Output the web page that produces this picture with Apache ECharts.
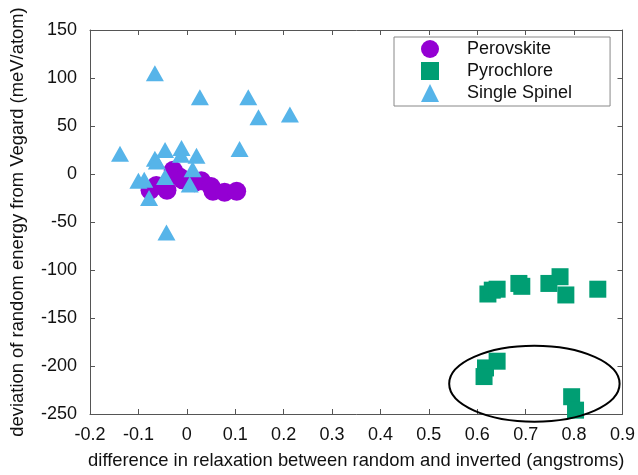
<!DOCTYPE html>
<html>
<head>
<meta charset="utf-8">
<script src="https://cdn.jsdelivr.net/npm/echarts@6/dist/echarts.min.js"></script>
<style>
  html, body { margin: 0; padding: 0; background: #fff; }
  #chart { width: 638px; height: 475px; }
</style>
</head>
<body>
<div id="chart"></div>
<script>
// values
const perovskite = [
  [-0.076, -17], [-0.063, -12], [-0.041, -17], [-0.028, 4], [-0.015, -3],
  [-0.009, -6], [0.016, -9], [0.030, -7], [0.050, -13], [0.054, -18],
  [0.078, -19], [0.103, -18]
];
const pyrochlore = [
  [0.622, -125], [0.631, -121], [0.641, -120], [0.686, -114], [0.692, -117],
  [0.748, -114], [0.771, -107], [0.783, -126], [0.849, -120],
  [0.641, -195], [0.617, -202], [0.614, -211], [0.795, -232], [0.803, -246]
];
const spinel = [
  [-0.066, 105], [0.027, 80], [0.127, 80], [0.148, 59], [0.213, 62],
  [-0.138, 21], [0.109, 26], [-0.066, 16], [-0.062, 13], [-0.045, 25],
  [-0.011, 27], [-0.012, 20], [0.020, 19], [0.012, 5], [-0.045, -3],
  [-0.100, -7], [-0.088, -6], [0.006, -11], [-0.078, -25], [-0.042, -61]
];
const xTicks = { min: -0.2, max: 0.9, step: 0.1 };
const yTicks = { min: -250, max: 150, step: 50 };
// highlighted region (centre and radii in data units)
const ring = { cx: 0.718, cy: -218.5, rx: 0.176, ry: 39.5 };

const font = 'Liberation Sans, Arial, Helvetica, sans-serif';
const axisColor = '#555';

const chart = echarts.init(document.getElementById('chart'));

const baseX = {
  type: 'value',
  min: xTicks.min,
  max: xTicks.max,
  interval: xTicks.step,
  axisLine: { show: true, onZero: false, lineStyle: { color: axisColor, width: 1 } },
  axisTick: { show: true, inside: true, length: 5, lineStyle: { color: axisColor } },
  splitLine: { show: false }
};
const baseY = {
  type: 'value',
  min: yTicks.min,
  max: yTicks.max,
  interval: yTicks.step,
  axisLine: { show: true, onZero: false, lineStyle: { color: axisColor, width: 1 } },
  axisTick: { show: true, inside: true, length: 5, lineStyle: { color: axisColor } },
  splitLine: { show: false }
};

const option = {
  animation: false,
  textStyle: { fontFamily: font },
  grid: { left: 90, right: 14, top: 30, bottom: 57 },
  legend: {
    orient: 'vertical',
    left: 394,
    top: 37,
    itemWidth: 18,
    itemHeight: 18,
    itemGap: 4,
    padding: [3, 38, 4, 27],
    borderColor: '#888',
    borderWidth: 1,
    textStyle: { fontSize: 18, color: '#111', fontFamily: font, padding: [0, 0, 0, 23] },
    data: ['Perovskite', 'Pyrochlore', 'Single Spinel']
  },
  xAxis: [
    Object.assign({}, baseX, {
      position: 'bottom',
      name: 'difference in relaxation between random and inverted (angstroms)',
      nameLocation: 'middle',
      nameGap: 38,
      nameTextStyle: { fontSize: 18.4, color: '#111', fontFamily: font },
      axisLabel: { fontSize: 18, color: '#111', margin: 12, fontFamily: font,
        formatter: v => String(Math.round(v * 10) / 10) }
    }),
    Object.assign({}, baseX, { position: 'top', axisLabel: { show: false } })
  ],
  yAxis: [
    Object.assign({}, baseY, {
      position: 'left',
      name: 'deviation of random energy from Vegard (meV/atom)',
      nameLocation: 'middle',
      nameGap: 63,
      nameTextStyle: { fontSize: 18.4, color: '#111', fontFamily: font },
      axisLabel: { fontSize: 18, color: '#111', margin: 13, fontFamily: font }
    }),
    Object.assign({}, baseY, { position: 'right', axisLabel: { show: false } })
  ],
  series: [
    {
      name: 'Perovskite', type: 'scatter', data: perovskite,
      symbol: 'circle', symbolSize: 19,
      itemStyle: { color: '#9400D3', opacity: 1 }
    },
    {
      name: 'Pyrochlore', type: 'scatter', data: pyrochlore,
      symbol: 'rect', symbolSize: 17,
      itemStyle: { color: '#009E73', opacity: 1 }
    },
    {
      name: 'Single Spinel', type: 'scatter', data: spinel,
      symbol: 'triangle', symbolSize: [18, 16],
      itemStyle: { color: '#56B4E9', opacity: 1 }
    }
  ]
};

chart.setOption(option);

// ellipse annotation placed through the chart's own scales
const c = chart.convertToPixel({ gridIndex: 0 }, [ring.cx, ring.cy]);
const e = chart.convertToPixel({ gridIndex: 0 }, [ring.cx + ring.rx, ring.cy + ring.ry]);
chart.setOption({
  graphic: [{
    type: 'ellipse',
    shape: { cx: c[0], cy: c[1], rx: Math.abs(e[0] - c[0]), ry: Math.abs(c[1] - e[1]) },
    style: { fill: null, stroke: '#000', lineWidth: 2 },
    z: 10
  }]
});
</script>
</body>
</html>
